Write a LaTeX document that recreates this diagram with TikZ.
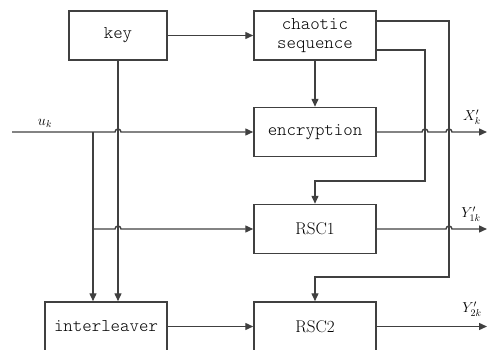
\documentclass[tikz,border=0pt]{standalone}
\usepackage{fontspec}
\newfontfamily\lightmono{Latin Modern Mono Light}
\usetikzlibrary{arrows.meta}

\tikzset{
  blk/.style={draw=black!75, line width=1.5pt, minimum width=122pt, minimum height=49pt,
    inner sep=0pt, align=center, font=\fontsize{18}{19}\lightmono},
  rsc/.style={blk, font=\fontsize{17}{18}\rmfamily},
  wire/.style={draw=black!75, line width=1.4pt},
  arr/.style={wire, -{Triangle[length=8pt,width=7pt]}},
  lbl/.style={font=\fontsize{14}{16}\selectfont}
}

\begin{document}
\begin{tikzpicture}[x=1pt,y=1pt]
  \useasboundingbox (0,0) rectangle (488,349);
  \clip (0,0) rectangle (488,349);

  \node[blk, minimum width=98pt] (key) at (118,313.5) {key};
  \node[blk] (chaos) at (315,313.5) {chaotic\\sequence};
  \node[blk] (enc) at (315,217) {encryption};
  \node[rsc] (rsc1) at (315,120) {RSC1};
  \node[blk] (intl) at (106,22.5) {interleaver};
  \node[rsc] (rsc2) at (315,22.5) {RSC2};

  \coordinate (uin) at (12,217);
  \coordinate (br) at (93,217);
  \coordinate (brr) at (93,120);
  \coordinate (xk) at (487,217);
  \coordinate (y1k) at (487,120);
  \coordinate (y2k) at (487,22.5);

  % key and chaotic sequence
  \path[arr] (key.east) -- (chaos.west);
  \path[arr] (chaos.south) -- (enc.north);
  \path[arr] (key.south) -- (key.south |- intl.north);

  % input u_k and its branches
  \path[arr] (uin) -- (115,217) arc (180:0:3) -- (enc.west);
  \path[wire] (br) -- (brr);
  \path[arr] (brr) -- (115,120) arc (180:0:3) -- (rsc1.west);
  \path[arr] (brr) -- (brr |- intl.north);
  \path[arr] (intl.east) -- (rsc2.west);

  % feeds from chaotic sequence
  \path[arr] ([yshift=14.5pt] chaos.east) -- (449,328) -- (449,72) -- (315,72) -- (rsc2.north);
  \path[arr] ([yshift=-14.5pt] chaos.east) -- (425,299) -- (425,168) -- (315,168) -- (rsc1.north);

  % outputs
  \path[arr] (enc.east) -- (422,217) arc (180:0:3) -- (446,217) arc (180:0:3) -- (xk);
  \path[arr] (rsc1.east) -- (446,120) arc (180:0:3) -- (y1k);
  \path[arr] (rsc2.east) -- (y2k);

  \node[lbl] (ulab) at (45,226) {$u_k$};
  \node[lbl] (xlab) at (472,232) {$X'_k$};
  \node[lbl] (y1lab) at (471,135) {$Y'_{1k}$};
  \node[lbl] (y2lab) at (472,40) {$Y'_{2k}$};
\end{tikzpicture}
\end{document}
